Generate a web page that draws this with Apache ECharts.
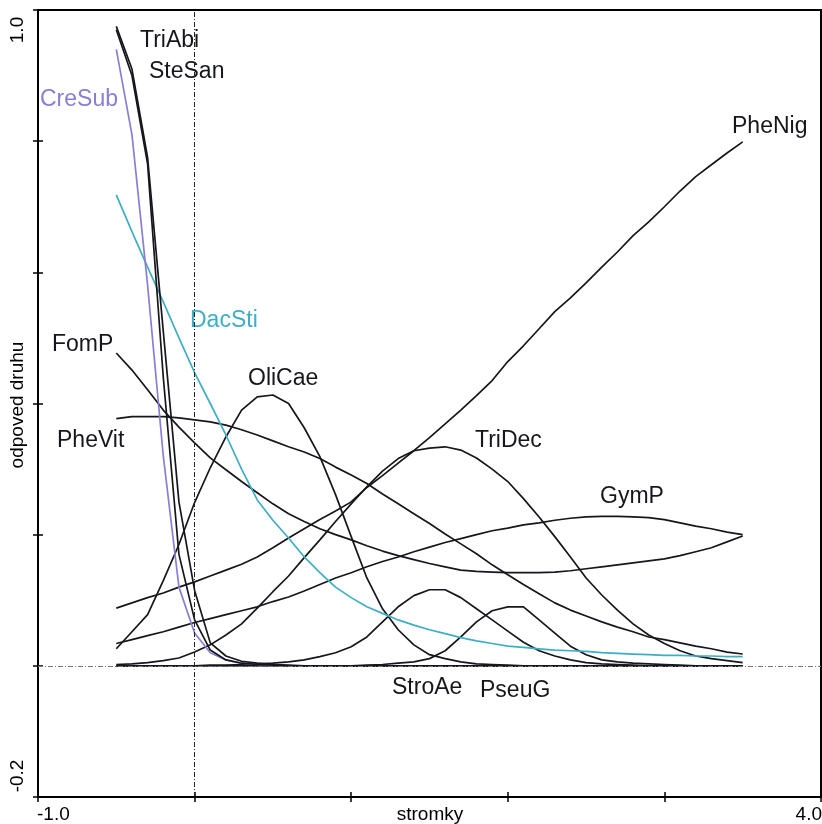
<!DOCTYPE html>
<html><head><meta charset="utf-8">
<script src="https://cdn.jsdelivr.net/npm/echarts@6/dist/echarts.min.js"></script>
<style>html,body{margin:0;padding:0;background:#fff}#c{width:822px;height:824px}</style>
</head><body><div id="c"></div><script>
// gradient values (x)
const xs = [-0.5,-0.4,-0.3,-0.2,-0.1,0,0.1,0.2,0.3,0.4,0.5,0.6,0.7,0.8,0.9,1.0,1.1,1.2,1.3,1.4,1.5,1.6,1.7,1.8,1.9,2.0,2.1,2.2,2.3,2.4,2.5,2.6,2.7,2.8,2.9,3.0,3.1,3.2,3.3,3.4,3.5];

const triAbi = [0.975,0.91,0.775,0.51,0.25,0.115,0.035,0.015,0.007,0.004,0.002,0.001,0,0,0,0,0,0,0,0,0,0,0,0,0,0,0,0,0,0,0,0,0,0,0,0,0,0,0,0,0];
const steSan = [0.97,0.9,0.765,0.44,0.17,0.07,0.024,0.009,0.004,0.002,0.001,0,0,0,0,0,0,0,0,0,0,0,0,0,0,0,0,0,0,0,0,0,0,0,0,0,0,0,0,0,0];
const creSub = [0.94,0.81,0.58,0.32,0.12,0.05,0.02,0.009,0.004,0.002,0.001,0,0,0,0,0,0,0,0,0,0,0,0,0,0,0,0,0,0,0,0,0,0,0,0,0,0,0,0,0,0];
const dacSti = [0.718,0.662,0.608,0.555,0.5,0.447,0.4,0.352,0.3,0.253,0.222,0.195,0.166,0.142,0.12,0.104,0.09,0.08,0.07,0.062,0.055,0.049,0.043,0.038,0.034,0.03,0.028,0.026,0.024,0.023,0.022,0.02,0.019,0.018,0.017,0.016,0.016,0.015,0.015,0.014,0.014];
const pheNig = [0.088,0.096,0.104,0.111,0.12,0.128,0.137,0.146,0.155,0.166,0.18,0.195,0.209,0.223,0.236,0.25,0.272,0.29,0.309,0.328,0.348,0.369,0.39,0.412,0.435,0.464,0.488,0.514,0.54,0.561,0.584,0.608,0.631,0.656,0.677,0.7,0.724,0.746,0.764,0.782,0.799];
const gymP = [0.034,0.04,0.046,0.052,0.059,0.066,0.072,0.078,0.084,0.09,0.098,0.105,0.114,0.124,0.134,0.142,0.151,0.159,0.166,0.174,0.181,0.188,0.194,0.2,0.206,0.21,0.215,0.218,0.222,0.225,0.227,0.228,0.228,0.227,0.226,0.223,0.218,0.213,0.209,0.204,0.2];
const fomP = [0.477,0.451,0.421,0.39,0.364,0.34,0.317,0.299,0.281,0.264,0.247,0.232,0.22,0.209,0.2,0.192,0.183,0.175,0.168,0.162,0.156,0.151,0.146,0.144,0.143,0.142,0.142,0.142,0.143,0.145,0.148,0.151,0.154,0.157,0.16,0.163,0.168,0.174,0.18,0.189,0.198];
const pheVit = [0.377,0.38,0.38,0.38,0.378,0.375,0.372,0.367,0.36,0.352,0.343,0.334,0.326,0.316,0.303,0.291,0.278,0.262,0.247,0.232,0.217,0.201,0.186,0.171,0.154,0.139,0.124,0.11,0.096,0.085,0.076,0.067,0.059,0.052,0.044,0.04,0.035,0.03,0.026,0.021,0.018];
const triDec = [0.002,0.003,0.005,0.008,0.012,0.021,0.032,0.047,0.064,0.088,0.113,0.137,0.165,0.192,0.22,0.247,0.273,0.297,0.316,0.328,0.332,0.334,0.329,0.317,0.3,0.281,0.255,0.227,0.197,0.166,0.134,0.108,0.085,0.064,0.047,0.034,0.023,0.015,0.011,0.008,0.005];
const oliCae = [0.026,0.052,0.078,0.13,0.185,0.249,0.302,0.349,0.39,0.41,0.413,0.4,0.363,0.319,0.261,0.197,0.134,0.087,0.055,0.032,0.017,0.011,0.006,0.003,0.002,0.001,0,0,0,0,0,0,0,0,0,0,0,0,0,0,0];
const stroAe = [0,0,0,0,0,0,0.001,0.001,0.002,0.003,0.004,0.006,0.009,0.014,0.02,0.029,0.044,0.067,0.09,0.107,0.116,0.116,0.104,0.087,0.07,0.053,0.036,0.023,0.015,0.009,0.005,0.003,0.002,0.001,0,0,0,0,0,0,0];
const pseuG = [0,0,0,0,0,0,0,0,0,0,0,0,0,0,0,0,0.001,0.002,0.004,0.006,0.011,0.023,0.044,0.067,0.084,0.09,0.09,0.07,0.05,0.03,0.017,0.009,0.006,0.004,0.003,0.002,0.001,0,0,0,0];

const xTickLabels = ['-1.0','4.0'];
const yTickLabels = ['1.0','-0.2'];
const xTitle = 'stromky';
const yTitle = 'odpoved druhu';

const BLACK = '#15171c', PURPLE = '#8a7ed4', TEAL = '#3eaec6';
const FONT = '"Liberation Sans", Arial, sans-serif';

const chart = echarts.init(document.getElementById('c'), null, {renderer:'canvas'});

function mk(name, vals, color) {
  return {type:'line', name, data: xs.map((x,i)=>[x, vals[i]]), symbol:'none', showSymbol:false,
    lineStyle:{color, width:1.7}, itemStyle:{color}, silent:true, animation:false};
}

const series = [
  mk('PheVit', pheVit, BLACK),
  mk('FomP', fomP, BLACK),
  mk('GymP', gymP, BLACK),
  mk('PheNig', pheNig, BLACK),
  mk('TriDec', triDec, BLACK),
  mk('OliCae', oliCae, BLACK),
  mk('StroAe', stroAe, BLACK),
  mk('PseuG', pseuG, BLACK),
  mk('DacSti', dacSti, TEAL),
  mk('CreSub', creSub, PURPLE),
  mk('SteSan', steSan, BLACK),
  mk('TriAbi', triAbi, BLACK)
];
series[0].markLine = {silent:true, symbol:['none','none'], animation:false, label:{show:false},
  data:[{xAxis:0, lineStyle:{color:'#222', type:[5,2,1,2], width:1}},
        {yAxis:0, lineStyle:{color:'#777', type:[5,2,1,2], width:1}}]};

function xAx(inside){
  return {type:'value', min:-1, max:4, interval:1, position:'bottom',
    axisLine:{onZero:false, lineStyle:{color:'#000', width:2}},
    axisTick:{show:true, inside, length:5, lineStyle:{color:'#000', width:1.5}},
    axisLabel:{show:false}, splitLine:{show:false}};
}
function yAx(inside){
  return {type:'value', min:-0.2, max:1.0, interval:0.2, position:'left',
    axisLine:{onZero:false, lineStyle:{color:'#000', width:2}},
    axisTick:{show:true, inside, length:5, lineStyle:{color:'#000', width:1.5}},
    axisLabel:{show:false}, splitLine:{show:false}};
}

function txt(text, x, y, color, size) {
  return {type:'text', x, y, silent:true, style:{text, fill:color, font: size+'px '+FONT, align:'left', verticalAlign:'middle'}};
}
function axText(text, x, y, align, rot) {
  const g = {type:'text', x, y, silent:true, style:{text, fill:'#000', font:'19px '+FONT, align, verticalAlign:'middle'}};
  if (rot) g.rotation = Math.PI/2;
  return g;
}
const labelSize = 23;
const graphics = [
  txt('TriAbi', 140, 41, BLACK, labelSize),
  txt('SteSan', 149, 72, BLACK, labelSize),
  txt('CreSub', 40, 100, PURPLE, labelSize),
  txt('PheNig', 732, 127, BLACK, labelSize),
  txt('DacSti', 190, 321, TEAL, labelSize),
  txt('FomP', 52, 345, BLACK, labelSize),
  txt('OliCae', 248, 379, BLACK, labelSize),
  txt('PheVit', 57, 441, BLACK, labelSize),
  txt('TriDec', 475, 441, BLACK, labelSize),
  txt('GymP', 600, 497, BLACK, labelSize),
  txt('StroAe', 392, 688, BLACK, labelSize),
  txt('PseuG', 480, 691, BLACK, labelSize),
  axText(xTickLabels[0], 37, 815, 'left'),
  axText(xTickLabels[1], 822, 815, 'right'),
  axText(xTitle, 430, 815, 'center'),
  axText(yTickLabels[0], 18, 30, 'center', true),
  axText(yTickLabels[1], 18, 776, 'center', true),
  axText(yTitle, 18, 405, 'center', true)
];

chart.setOption({
  animation:false,
  backgroundColor:'#fff',
  grid:{left:38, right:1, top:10, bottom:27, show:true, borderColor:'#000', borderWidth:2, backgroundColor:'transparent'},
  xAxis:[xAx(false), xAx(true)],
  yAxis:[yAx(false), yAx(true)],
  series,
  graphic: graphics
});
</script></body></html>
